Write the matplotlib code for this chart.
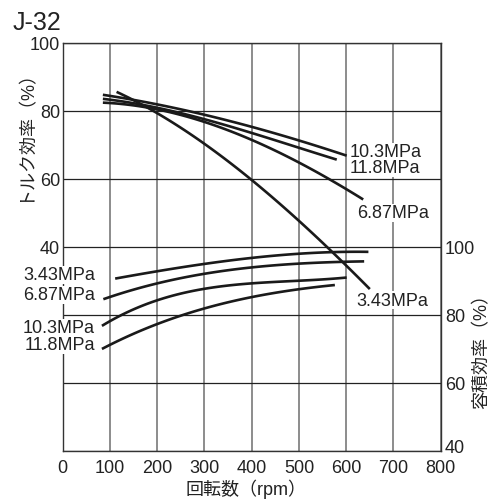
import numpy as np
import matplotlib
matplotlib.use("Agg")
import matplotlib.pyplot as plt
import matplotlib.transforms as mtransforms

plt.rcParams['font.family'] = ['Liberation Sans', 'Noto Sans CJK JP', 'DejaVu Sans']

# トルク効率 (左軸)
rpm_t_343 = [114, 200, 280, 400, 460, 540, 600, 650]
torque_343 = [85.7, 79.3, 72.0, 60.0, 53.0, 42.0, 34.5, 27.8]
rpm_t_687 = [85, 200, 300, 400, 500, 636]
torque_687 = [82.6, 80.0, 77.0, 72.0, 64.3, 54.1]
rpm_t_103 = [85, 200, 300, 400, 500, 601]
torque_103 = [84.8, 81.8, 79.0, 75.4, 71.2, 66.9]
rpm_t_118 = [85, 200, 300, 400, 500, 580]
torque_118 = [83.6, 80.8, 77.8, 73.4, 69.2, 65.7]

# 容積効率 (右軸)
rpm_v_343 = [111, 200, 312, 400, 500, 647]
vol_343 = [90.8, 92.6, 95.5, 96.8, 97.9, 98.6]
rpm_v_687 = [86, 200, 312, 400, 500, 638]
vol_687 = [84.7, 89.1, 92.6, 94.0, 95.0, 95.8]
rpm_v_103 = [83, 200, 312, 400, 500, 601]
vol_103 = [76.7, 84.7, 87.6, 89.2, 90.4, 90.9]
rpm_v_118 = [83, 200, 312, 400, 500, 576]
vol_118 = [70.0, 77.4, 82.3, 85.3, 87.6, 88.8]

x_ticks = [0, 100, 200, 300, 400, 500, 600, 700, 800]
left_ticks = [-20, 0, 20, 40, 60, 80, 100]
left_labels = ['', '', '', '40', '60', '80', '100']
right_ticks = [40, 60, 80, 100]


def smooth(x, y, n=60):
    # 滑らかな曲線にする (多項式で補間)
    x = np.asarray(x, float)
    y = np.asarray(y, float)
    xs = np.linspace(x[0], x[-1], n)
    c = np.polyfit(x, y, min(3, len(x) - 1))
    return xs, np.polyval(c, xs)


fig = plt.figure(figsize=(4.95, 5.02), dpi=100)
ax = fig.add_axes([0.1267, 0.0996, 0.7636, 0.8128])
ax2 = ax.twinx()

ink = '#1a1a1a'
lw = 1.9

for xx, yy in [(rpm_t_343, torque_343), (rpm_t_687, torque_687),
               (rpm_t_103, torque_103), (rpm_t_118, torque_118)]:
    xs, ys = smooth(xx, yy)
    ax.plot(xs, ys, color=ink, lw=lw, solid_capstyle='butt', zorder=4)

for xx, yy in [(rpm_v_343, vol_343), (rpm_v_687, vol_687),
               (rpm_v_103, vol_103), (rpm_v_118, vol_118)]:
    xs, ys = smooth(xx, yy)
    ax2.plot(xs, ys, color=ink, lw=lw, solid_capstyle='butt', zorder=4)

ax.set_xlim(0, 800)
ax.set_ylim(-20, 100)
ax2.set_ylim(40, 160)

ax.set_xticks(x_ticks)
ax.set_xticklabels([str(v) for v in x_ticks])
ax.set_yticks(left_ticks)
ax.set_yticklabels(left_labels)
ax2.set_yticks(right_ticks)
ax2.set_yticklabels([str(v) for v in right_ticks])

ax.grid(axis='x', color='#6e6e6e', lw=1.1)
ax.grid(axis='y', color='#222222', lw=0.9)
ax.set_axisbelow(True)

ax.tick_params(axis='both', length=0, labelsize=13, colors='#222222')
ax.tick_params(axis='y', pad=2)
ax.tick_params(axis='x', pad=6)
ax2.tick_params(axis='y', length=0, labelsize=13, colors='#222222', pad=3)

# 右下の "40" を少し上へ ("800" と重ならないように)
lbl40 = ax2.get_yticklabels()[0]
lbl40.set_transform(lbl40.get_transform() +
                    mtransforms.ScaledTranslation(0, 4 / 72, fig.dpi_scale_trans))

for s in ax.spines.values():
    s.set_color('#333333')
    s.set_linewidth(1.0)
for s in ax2.spines.values():
    s.set_visible(False)

box = dict(facecolor='white', edgecolor='none', pad=0.5)
fs = 13
# 左側のラベル (容積効率)
ax.text(68, 31.8, '3.43MPa', ha='right', va='center', fontsize=fs, color='#222222', bbox=box, clip_on=False, zorder=3)
ax.text(68, 25.9, '6.87MPa', ha='right', va='center', fontsize=fs, color='#222222', bbox=box, clip_on=False, zorder=3)
ax.text(68, 16.2, '10.3MPa', ha='right', va='center', fontsize=fs, color='#222222', bbox=box, clip_on=False, zorder=3)
ax.text(68, 11.2, '11.8MPa', ha='right', va='center', fontsize=fs, color='#222222', bbox=box, clip_on=False, zorder=3)
# 右側のラベル (トルク効率)
ax.text(608, 68.0, '10.3MPa', ha='left', va='center', fontsize=fs, color='#222222', bbox=box, zorder=3)
ax.text(608, 63.3, '11.8MPa', ha='left', va='center', fontsize=fs, color='#222222', bbox=box, zorder=3)
ax.text(623, 50.0, '6.87MPa', ha='left', va='center', fontsize=fs, color='#222222', bbox=box, zorder=3)
ax.text(621, 24.4, '3.43MPa', ha='left', va='center', fontsize=fs, color='#222222', bbox=box, zorder=3)

fig.text(0.026, 0.94, 'J-32', fontsize=18, color='#222222', ha='left', va='baseline')
fig.text(0.05, 0.74, 'トルク効率（%）', rotation=90, fontsize=13, color='#222222', ha='center', va='center')
fig.text(0.974, 0.309, '容積効率（%）', rotation=90, fontsize=13, color='#222222', ha='center', va='center')
fig.text(0.497, 0.026, '回転数（rpm）', fontsize=13, color='#222222', ha='center', va='center')

fig.savefig('out.png', dpi=100)
